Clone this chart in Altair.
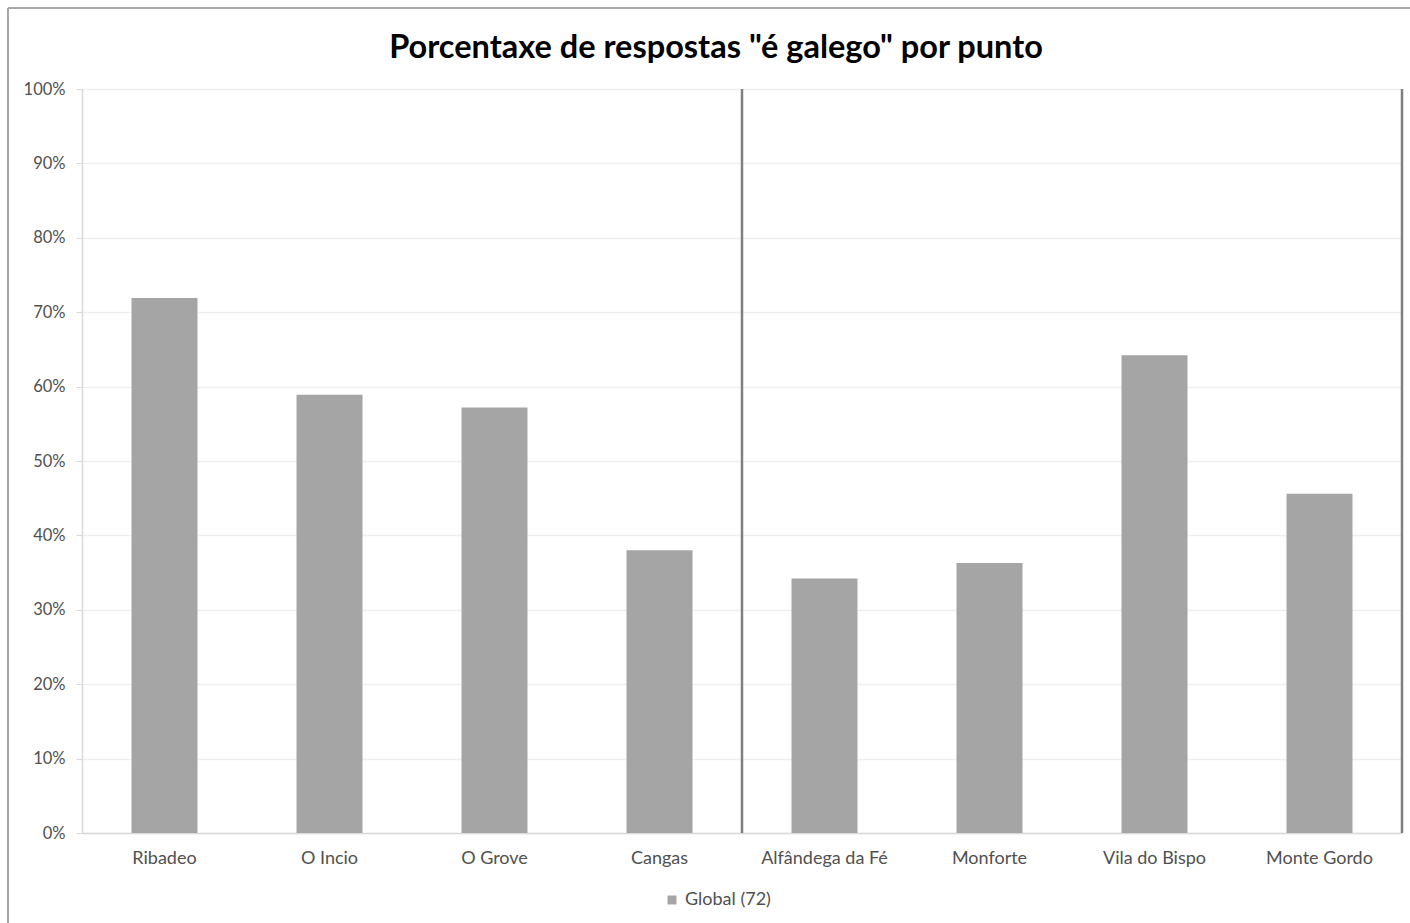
import altair as alt
import pandas as pd

# Share of "é galego" answers at each survey point
points = ["Ribadeo", "O Incio", "O Grove", "Cangas",
          "Alfândega da Fé", "Monforte", "Vila do Bispo", "Monte Gordo"]
share = [0.719, 0.589, 0.572, 0.380, 0.342, 0.363, 0.642, 0.456]
series = "Global (72)"

# Group boundary (Galicia | Portugal) and closing edge of the plot
boundary_points = ["Alfândega da Fé"]
edge_points = ["Monte Gordo"]

df = pd.DataFrame({"punto": points, "valor": share, "serie": [series] * len(points)})
df_boundary = pd.DataFrame({"punto": boundary_points})
df_edge = pd.DataFrame({"punto": edge_points})

FONT = "Lato"
LABEL = "#505050"
BAR = "#a5a5a5"

x_scale = alt.Scale(domain=points, paddingInner=0, paddingOuter=0)

bars = alt.Chart(df).mark_bar(width=alt.RelativeBandSize(0.4), color=BAR).encode(
    x=alt.X("punto:N", scale=x_scale, sort=points, title=None,
            axis=alt.Axis(labelAngle=0, labelFont=FONT, labelFontSize=18,
                          labelColor=LABEL, labelPadding=16, ticks=False,
                          domainColor="#d9d9d9", domainWidth=1.5, grid=False)),
    y=alt.Y("valor:Q", title=None,
            scale=alt.Scale(domain=[0, 1], nice=False),
            axis=alt.Axis(format="%", values=[i / 10 for i in range(11)],
                          labelFont=FONT, labelFontSize=16.5, labelColor=LABEL,
                          labelPadding=11, tickSize=6, tickColor="#d9d9d9",
                          domainColor="#d9d9d9", domainWidth=1.5,
                          gridColor="#efefef", gridWidth=1.5)),
    color=alt.Color("serie:N", scale=alt.Scale(range=[BAR]),
                    legend=alt.Legend(title=None, orient="none",
                                      legendX=581, legendY=802,
                                      symbolType="square", symbolSize=80,
                                      symbolStrokeWidth=0,
                                      labelFont=FONT, labelFontSize=18,
                                      labelColor=LABEL, labelOffset=4)),
)

divider = alt.Chart(df_boundary).mark_rule(color="#7f7f7f", strokeWidth=2.5).encode(
    x=alt.X("punto:N", scale=x_scale, sort=points, bandPosition=0),
    y=alt.value(0), y2=alt.value(744),
)

edge = alt.Chart(df_edge).mark_rule(color="#7f7f7f", strokeWidth=2.5).encode(
    x=alt.X("punto:N", scale=x_scale, sort=points, bandPosition=1),
    y=alt.value(0), y2=alt.value(744),
)

# Outer frame of the chart object
frame_top = alt.Chart(df_boundary).mark_rule(color="#a6a6a6", strokeWidth=2).encode(
    x=alt.value(-74), x2=alt.value(1330), y=alt.value(-81))
frame_left = alt.Chart(df_boundary).mark_rule(color="#a6a6a6", strokeWidth=2).encode(
    x=alt.value(-74), y=alt.value(-81), y2=alt.value(840))

chart = alt.layer(bars, divider, edge, frame_top, frame_left).properties(
    width=1320, height=744,
    title=alt.TitleParams('Porcentaxe de respostas "é galego" por punto',
                          font=FONT, fontSize=32.5, fontWeight="bold",
                          color="#000000", anchor="middle", frame="group",
                          baseline="alphabetic", offset=-83, dx=-26),
    autosize=alt.AutoSizeParams(type="none"),
    padding={"left": 82, "top": 89, "right": 8, "bottom": 90},
).configure_view(stroke=None).configure(background="#ffffff")

chart.save("out.html", embed_options={"renderer": "svg", "actions": False})
